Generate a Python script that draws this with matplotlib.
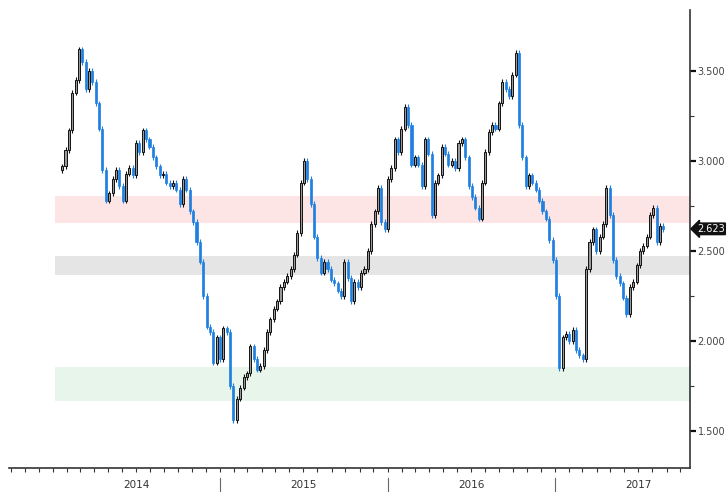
import matplotlib
matplotlib.use('Agg')
import matplotlib.pyplot as plt
import matplotlib.dates as mdates
import matplotlib.transforms as mtransforms
import pandas as pd

# closing levels left to right (roughly weekly)
closes=[2.97,3.06,3.17,3.38,3.45,3.62,3.55,3.40,3.50,3.44,3.32,3.18,2.95,2.78,2.82,2.90,2.95,2.86,2.78,2.93,
        2.96,2.92,3.10,3.05,3.17,3.12,3.08,3.02,2.97,2.92,2.93,2.88,2.86,2.88,2.84,2.76,2.90,2.84,2.72,2.66,
        2.55,2.44,2.25,2.08,2.05,1.88,2.02,1.90,2.07,2.05,1.75,1.56,1.68,1.74,1.80,1.82,1.97,1.90,1.84,1.86,
        1.95,2.05,2.12,2.18,2.22,2.30,2.33,2.36,2.40,2.48,2.60,2.88,3.00,2.90,2.76,2.58,2.46,2.38,2.44,2.40,
        2.34,2.32,2.28,2.25,2.44,2.35,2.22,2.33,2.30,2.38,2.40,2.50,2.65,2.72,2.85,2.66,2.62,2.90,2.96,3.12,
        3.05,3.18,3.30,3.20,2.98,3.02,2.98,2.86,3.12,3.04,2.70,2.88,2.92,3.08,3.04,2.98,3.00,2.96,3.10,3.12,
        3.02,2.86,2.80,2.74,2.68,2.88,3.05,3.16,3.20,3.18,3.32,3.44,3.40,3.36,3.48,3.60,3.20,3.02,2.86,2.92,
        2.88,2.84,2.78,2.72,2.68,2.56,2.45,2.25,1.85,2.02,2.04,2.00,2.06,1.95,1.92,1.90,2.40,2.55,2.62,2.50,
        2.58,2.65,2.85,2.70,2.45,2.36,2.32,2.24,2.15,2.30,2.33,2.42,2.50,2.53,2.58,2.70,2.74,2.55,2.64,2.623]
firstOpen=2.95
startDate='2014-01-21'
endDate='2017-08-25'
years=['2014','2015','2016','2017']
yTicks=[1.5,2.0,2.5,3.0,3.5]
bandRed=(2.657,2.807)
bandGray=(2.367,2.472)
bandGreen=(1.668,1.857)

dates=pd.date_range(startDate,endDate,periods=len(closes))
opens=[firstOpen]+closes[:-1]
x=mdates.date2num(dates)

fig=plt.figure(figsize=(7.28,4.92),dpi=100)
ax=fig.add_axes([9/728,24/492,681/728,458/492])

ax.set_xlim(mdates.date2num(pd.Timestamp('2013-09-27')),mdates.date2num(pd.Timestamp('2017-10-22')))
ax.set_ylim(1.294,3.839)

ax.axhspan(bandRed[0],bandRed[1],xmin=0.067,xmax=1,color='#fde5e5',lw=0,zorder=0)
ax.axhspan(bandGray[0],bandGray[1],xmin=0.067,xmax=1,color='#e5e5e5',lw=0,zorder=0)
ax.axhspan(bandGreen[0],bandGreen[1],xmin=0.067,xmax=1,color='#e8f5ea',lw=0,zorder=0)

wick=0.015
for i in range(len(closes)):
    o=opens[i]
    c=closes[i]
    lo=min(o,c)
    hi=max(o,c)
    if c<o:
        col='#1f80e0'
        ax.vlines(x[i],lo-wick,hi+wick,color=col,lw=0.8,zorder=2)
        ax.bar(x[i],hi-lo,bottom=lo,width=4.5,color=col,edgecolor=col,lw=0.5,zorder=3)
    else:
        ax.vlines(x[i],lo-wick,hi+wick,color='#111111',lw=0.8,zorder=2)
        ax.bar(x[i],max(hi-lo,0.006),bottom=lo,width=4.5,color='#9a9a9a',edgecolor='#111111',lw=0.7,zorder=3)

for s in ['left','top']:
    ax.spines[s].set_visible(False)
ax.spines['bottom'].set_color('#333333')
ax.spines['right'].set_color('#333333')
ax.spines['bottom'].set_linewidth(1.2)
ax.spines['right'].set_linewidth(1.2)

ax.yaxis.tick_right()
ax.set_yticks(yTicks)
ax.set_yticklabels(['%.3f'%v for v in yTicks],fontsize=7,color='#444444')
ax.set_yticks([1.75,2.25,2.75,3.25],minor=True)
ax.tick_params(axis='y',which='major',direction='out',length=4,width=1.6,color='#111111',pad=1.5)
ax.tick_params(axis='y',which='minor',direction='out',length=3,width=0.8,color='#333333')

ax.xaxis.set_major_locator(mdates.YearLocator())
ax.xaxis.set_minor_locator(mdates.MonthLocator())
ax.tick_params(axis='x',which='both',direction='out',length=3,width=0.8,color='#333333')
ax.set_xticklabels([])

trans=mtransforms.blended_transform_factory(ax.transData,ax.transAxes)
for y in years:
    mid=mdates.date2num(pd.Timestamp(y+'-07-01'))
    ax.text(mid,-0.037,y,transform=trans,ha='center',va='center',fontsize=7.5,color='#333333')
for y in years[1:]:
    b=mdates.date2num(pd.Timestamp(y+'-01-01'))
    ax.plot([b,b],[-0.022,-0.06],transform=trans,color='#666666',lw=0.8,clip_on=False)

ax.annotate('%.3f'%closes[-1],xy=(1.0,closes[-1]),xycoords=('axes fraction','data'),
            xytext=(1.01,closes[-1]),textcoords=('axes fraction','data'),
            va='center',ha='left',fontsize=7,color='white',
            bbox=dict(boxstyle='larrow,pad=0.08',fc='#111111',ec='#111111'))

fig.savefig('out.png',dpi=100)
